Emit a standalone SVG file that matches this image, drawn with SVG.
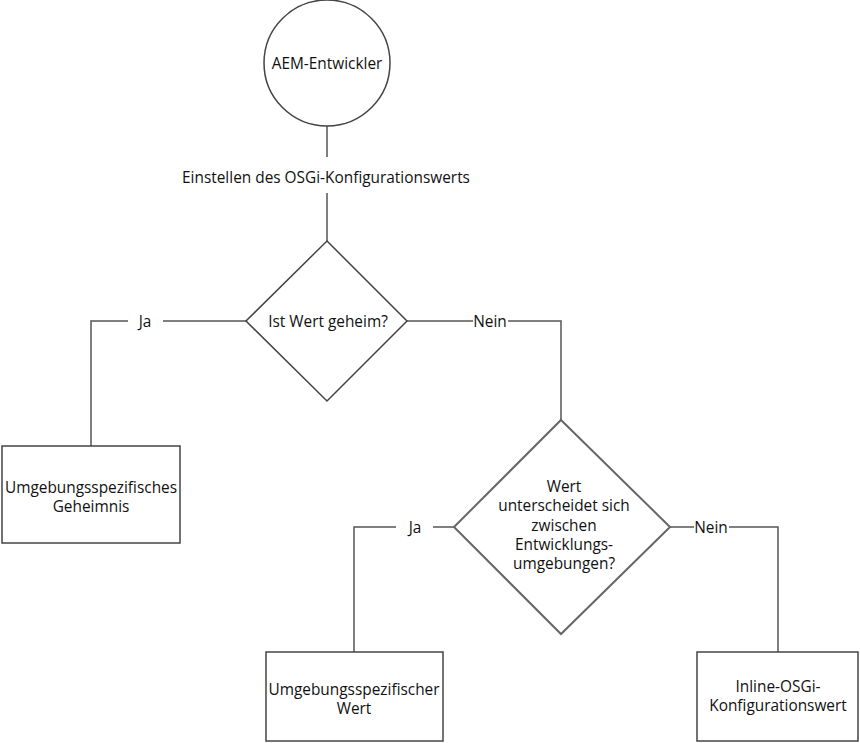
<svg xmlns="http://www.w3.org/2000/svg" width="860" height="743" viewBox="0 0 860 743">
<style>
.shape{fill:#fff;stroke:#444;stroke-width:1.5}
.conn{fill:none;stroke:#555;stroke-width:1.5}
text{font-family:"Open Sans","Noto Sans",sans-serif;font-size:15.4px;font-weight:500;fill:#111;text-anchor:middle;dominant-baseline:central}
</style>
<rect width="860" height="743" fill="#fff"/>
<g id="connectors">
<path class="conn" d="M327 126V157"/>
<path class="conn" d="M327 193V241"/>
<path class="conn" d="M246 321H163"/>
<path class="conn" d="M128 321H91V446"/>
<path class="conn" d="M405 321H473"/>
<path class="conn" d="M508 321H561V420"/>
<path class="conn" d="M454 527H433"/>
<path class="conn" d="M396 527H354V652"/>
<path class="conn" d="M670 527H694"/>
<path class="conn" d="M729 527H778V652"/>
<text x="326" y="177">Einstellen des OSGi-Konfigurationswerts</text>
<text x="145" y="321">Ja</text>
<text x="490" y="321">Nein</text>
<text x="415" y="527">Ja</text>
<text x="711" y="527">Nein</text>
</g>
<g id="start">
<circle class="shape" cx="327" cy="63" r="63"/>
<text x="327" y="63">AEM-Entwickler</text>
</g>
<g id="decision1">
<polygon class="shape" points="327,241 407,321 327,401 246,321"/>
<text x="328" y="321">Ist Wert geheim?</text>
</g>
<g id="secret">
<rect class="shape" x="2" y="446" width="178" height="97"/>
<text x="91" y="487">Umgebungsspezifisches</text>
<text x="91" y="506">Geheimnis</text>
</g>
<g id="decision2">
<polygon class="shape" style="stroke:#666;stroke-width:2" points="561,420 670,527 561,634 454,527"/>
<text x="564" y="486">Wert</text>
<text x="564" y="505">unterscheidet sich</text>
<text x="564" y="525">zwischen</text>
<text x="564" y="544">Entwicklungs-</text>
<text x="564" y="563">umgebungen?</text>
</g>
<g id="envvalue">
<rect class="shape" x="266" y="652" width="177" height="89"/>
<text x="354" y="689">Umgebungsspezifischer</text>
<text x="354" y="708">Wert</text>
</g>
<g id="inline">
<rect class="shape" x="697" y="652" width="161" height="89"/>
<text x="778" y="686">Inline-OSGi-</text>
<text x="778" y="705">Konfigurationswert</text>
</g>
</svg>
